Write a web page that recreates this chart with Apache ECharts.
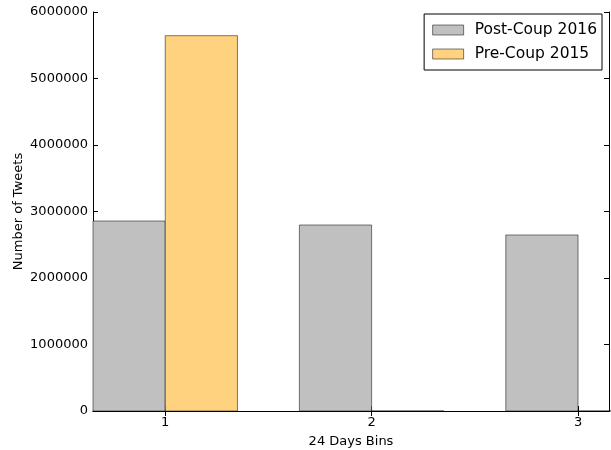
<!DOCTYPE html>
<html>
<head>
<meta charset="utf-8">
<script src="https://cdn.jsdelivr.net/npm/echarts@6/dist/echarts.min.js"></script>
<style>html,body{margin:0;padding:0;background:#fff;}#c{width:611px;height:450px;}</style>
</head>
<body>
<div id="c"></div>
<script>
const bins = [1, 2, 3];
const postCoup2016 = [2857000, 2797000, 2647000];
const preCoup2015 = [5644000, 0, 0];
const yTicks = [0, 1000000, 2000000, 3000000, 4000000, 5000000, 6000000];
const seriesNames = ['Post-Coup 2016', 'Pre-Coup 2015'];

const FONT = 'DejaVu Sans';
const chart = echarts.init(document.getElementById('c'), null, {renderer: 'canvas'});

function makeRender(offsetLeft) {
  return function (params, api) {
    const x = api.value(0);
    const v = api.value(1);
    const p1 = api.coord([x + offsetLeft, v]);
    const p2 = api.coord([x + offsetLeft + 0.35, 0]);
    return {
      type: 'rect',
      shape: {x: p1[0], y: p1[1], width: p2[0] - p1[0], height: p2[1] - p1[1]},
      style: {fill: api.visual('color'), stroke: 'rgba(0,0,0,0.5)', lineWidth: 1}
    };
  };
}

const axisCommon = {
  axisLine: {show: true, lineStyle: {color: '#000', width: 1}},
  splitLine: {show: false}
};

chart.setOption({
  animation: false,
  backgroundColor: '#fff',
  grid: {left: 93, right: 2, top: 12, bottom: 39, containLabel: false, outerBoundsMode: 'none'},
  legend: {
    right: 9, top: 14,
    orient: 'vertical',
    backgroundColor: '#fff',
    borderColor: '#000', borderWidth: 1,
    padding: [8, 5, 8, 8],
    itemWidth: 31, itemHeight: 10, itemGap: 8,
    icon: 'rect',
    textStyle: {fontFamily: FONT, fontSize: 15.5, color: '#000', padding: [0, 0, 0, 6]},
    data: [
      {name: seriesNames[0], itemStyle: {color: '#c0c0c0', borderColor: 'rgba(0,0,0,0.5)', borderWidth: 1}},
      {name: seriesNames[1], itemStyle: {color: '#ffd280', borderColor: 'rgba(0,0,0,0.5)', borderWidth: 1}}
    ]
  },
  xAxis: [
    Object.assign({
      type: 'value', min: 0.65, max: 3.15, position: 'bottom',
      name: '24 Days Bins', nameLocation: 'middle', nameGap: 24, nameMoveOverlap: false,
      nameTextStyle: {fontFamily: FONT, fontSize: 13, color: '#000'},
      axisTick: {show: true, inside: true, length: 5, customValues: bins, lineStyle: {color: '#000'}},
      axisLabel: {show: true, customValues: bins, margin: 5, fontFamily: FONT, fontSize: 13, color: '#000'}
    }, axisCommon),
    Object.assign({
      type: 'value', min: 0.65, max: 3.15, position: 'top',
      axisTick: {show: true, inside: true, length: 5, customValues: bins, lineStyle: {color: '#000'}},
      axisLabel: {show: false}
    }, axisCommon)
  ],
  yAxis: [
    Object.assign({
      type: 'value', min: 0, max: 6000000, interval: 1000000, position: 'left',
      name: 'Number of Tweets', nameLocation: 'middle', nameGap: 68, nameRotate: 90, nameMoveOverlap: false,
      nameTextStyle: {fontFamily: FONT, fontSize: 13, color: '#000'},
      axisTick: {show: true, inside: true, length: 5, lineStyle: {color: '#000'}},
      axisLabel: {show: true, margin: 5, fontFamily: FONT, fontSize: 13, color: '#000',
        customValues: yTicks, formatter: v => String(v)}
    }, axisCommon),
    Object.assign({
      type: 'value', min: 0, max: 6000000, interval: 1000000, position: 'right',
      axisTick: {show: true, inside: true, length: 5, lineStyle: {color: '#000'}},
      axisLabel: {show: false}
    }, axisCommon)
  ],
  series: [
    {
      name: seriesNames[0], type: 'custom', xAxisIndex: 0, yAxisIndex: 0,
      itemStyle: {color: '#c0c0c0'},
      renderItem: makeRender(-0.35),
      encode: {x: 0, y: 1},
      data: bins.map((b, i) => [b, postCoup2016[i]])
    },
    {
      name: seriesNames[1], type: 'custom', xAxisIndex: 0, yAxisIndex: 0,
      itemStyle: {color: '#ffd280'},
      renderItem: makeRender(0),
      encode: {x: 0, y: 1},
      data: bins.map((b, i) => [b, preCoup2015[i]])
    }
  ]
});
</script>
</body>
</html>
